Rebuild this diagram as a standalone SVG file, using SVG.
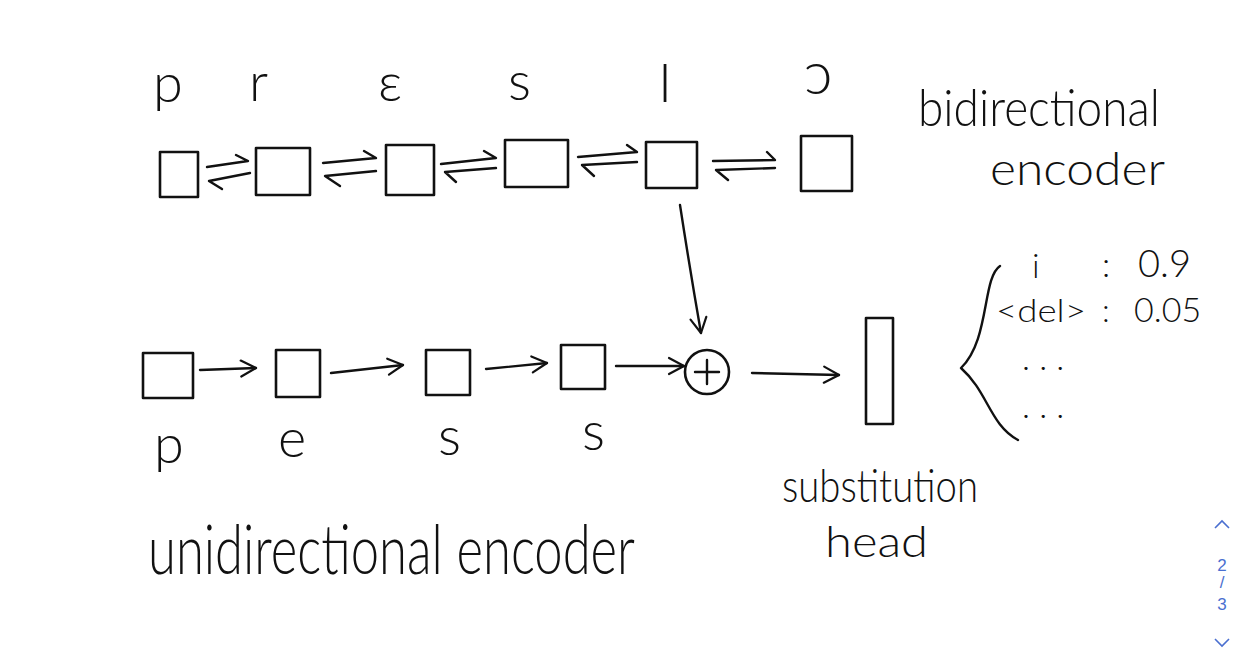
<svg xmlns="http://www.w3.org/2000/svg" width="1243" height="652" viewBox="0 0 1243 652">
<style>
.bx{fill:none;stroke:#111;stroke-width:2.6;stroke-linejoin:round}
.ln{fill:none;stroke:#111;stroke-width:2.4;stroke-linecap:round;stroke-linejoin:round}
.t{font-family:Lato,'Open Sans','Liberation Sans',sans-serif;font-weight:300;fill:#111}
.ui{font-family:'Liberation Sans',Arial,sans-serif;fill:#4a6fd0;font-size:17px;text-anchor:middle}
</style>
<defs>
<marker id="arr" viewBox="0 0 20 20" refX="18" refY="10" markerWidth="20" markerHeight="20" markerUnits="userSpaceOnUse" orient="auto">
<path d="M3,2 L18,10 L3,18" fill="none" stroke="#111" stroke-width="2.2" stroke-linecap="round" stroke-linejoin="round"/>
</marker>
</defs>
<rect width="1243" height="652" fill="#fff"/>

<g id="top-letters" class="t" font-size="54">
<text x="153" y="102">p</text>
<text x="249" y="101">r</text>
<text x="378" y="101">ε</text>
<text x="508" y="100">s</text>
<text x="658" y="102">I</text>
<text x="804" y="94" font-size="60">ɔ</text>
</g>

<g id="bi-1"><rect class="bx" x="160" y="152" width="38" height="45"/></g>
<g id="bi-2"><rect class="bx" x="256" y="148" width="54" height="47"/></g>
<g id="bi-3"><rect class="bx" x="386" y="145" width="48" height="50"/></g>
<g id="bi-4"><rect class="bx" x="505" y="140" width="63" height="47"/></g>
<g id="bi-5"><rect class="bx" x="646" y="142" width="51" height="46"/></g>
<g id="bi-6"><rect class="bx" x="801" y="136" width="51" height="55"/></g>

<g id="bidirectional-label" class="t">
<text x="918" y="126" font-size="52" textLength="242" lengthAdjust="spacingAndGlyphs">bidirectional</text>
<text x="990" y="185" font-size="46" textLength="175" lengthAdjust="spacingAndGlyphs">encoder</text>
</g>

<g id="uni-1"><rect class="bx" x="143" y="353" width="50" height="45"/></g>
<g id="uni-2"><rect class="bx" x="276" y="350" width="44" height="47"/></g>
<g id="uni-3"><rect class="bx" x="426" y="350" width="44" height="45"/></g>
<g id="uni-4"><rect class="bx" x="561" y="345" width="44" height="44"/></g>

<g id="bottom-letters" class="t" font-size="54">
<text x="154" y="463">p</text>
<text x="278" y="457">e</text>
<text x="438" y="455">s</text>
<text x="582" y="450">s</text>
</g>

<g id="plus">
<circle class="bx" cx="707" cy="372" r="22"/>
<path class="ln" d="M707,360 V384 M695,372 H719"/>
</g>

<g id="substitution-head">
<rect class="bx" x="866" y="318" width="27" height="106"/>
</g>

<g id="head-label" class="t">
<text x="782" y="502" font-size="46" textLength="196" lengthAdjust="spacingAndGlyphs">substitution</text>
<text x="825" y="557" font-size="44" textLength="103" lengthAdjust="spacingAndGlyphs">head</text>
</g>

<g id="unidirectional-label" class="t">
<text x="148" y="574" font-size="68" textLength="487" lengthAdjust="spacingAndGlyphs">unidirectional encoder</text>
</g>

<g id="outputs">
<path class="ln" d="M1000,266 C982,278 990,340 961,368 C988,392 990,425 1018,440"/>
<g class="t" font-size="34">
<text x="1032" y="278">i</text>
<text x="1102" y="277">:</text>
<text x="1138" y="277" font-size="38">0.9</text>
<text x="996" y="322" font-size="32" textLength="90" lengthAdjust="spacingAndGlyphs">&lt;del&gt;</text>
<text x="1102" y="322" font-size="32">:</text>
<text x="1134" y="322" font-size="34">0.05</text>
<text x="1022" y="370">. . .</text>
<text x="1022" y="418">. . .</text>
</g>
</g>

<g id="connectors">
<path class="ln" d="M207,167 L248,161 L236,155 M250,173 L209,181 L222,189"/>
<path class="ln" d="M323,163 L376,158 L364,151 M376,171 L325,176 L340,186"/>
<path class="ln" d="M441,164 L496,158 L484,151 M496,168 L445,172 L456,182"/>
<path class="ln" d="M578,157 L637,152 L627,145 M637,162 L582,165 L594,176"/>
<path class="ln" d="M713,161 L775,160 L767,152 M775,168 L716,170 L728,180"/>
<path class="ln" d="M680,205 Q690,270 701,333" marker-end="url(#arr)"/>
<path class="ln" d="M200,370 L256,368" marker-end="url(#arr)"/>
<path class="ln" d="M331,373 L403,365" marker-end="url(#arr)"/>
<path class="ln" d="M486,369 L547,363" marker-end="url(#arr)"/>
<path class="ln" d="M616,366 L684,366" marker-end="url(#arr)"/>
<path class="ln" d="M752,373 L839,375" marker-end="url(#arr)"/>
</g>

<g id="pager">
<path d="M1215,528 L1222,521 L1229,528" fill="none" stroke="#4a6fd0" stroke-width="1.6"/>
<text class="ui" x="1222" y="571">2</text>
<text class="ui" x="1222" y="588">/</text>
<text class="ui" x="1222" y="610">3</text>
<path d="M1215,639 L1222,646 L1229,639" fill="none" stroke="#4a6fd0" stroke-width="1.6"/>
</g>
</svg>
